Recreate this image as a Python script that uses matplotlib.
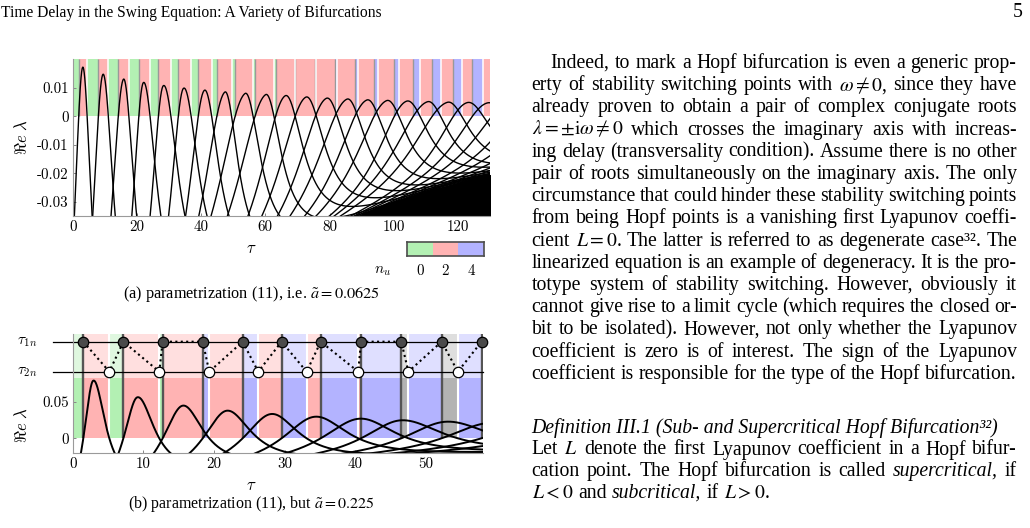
import numpy as np
import matplotlib
matplotlib.use("Agg")
import matplotlib.pyplot as plt
from matplotlib.patches import Rectangle
import matplotlib.transforms as mtransforms

W, H = 1030, 528
SERIF = "Liberation Serif"

# -------------------------- data --------------------------
# (a) a~ = 0.0625 : destabilising / restabilising delays, peaks of each root branch
tau_up_a = [1.87, 8.0, 14.2, 20.6, 26.7, 32.9, 39.1, 44.9, 50.6, 56.8, 63.2, 69.3, 75.6,
            81.7, 87.9, 93.9, 100.2, 106.1, 112.0, 118.6, 124.5, 130.6, 136.8, 142.9,
            149.0, 155.2, 161.3]
tau_down_a = [4.5, 11.1, 17.5, 24.1, 30.6, 36.9, 43.3, 49.5, 56.2, 62.7, 69.3, 75.9, 82.4,
              88.8, 95.2, 101.6, 108.2, 114.6, 121.2, 127.9, 134.4, 140.9, 147.4, 153.9,
              160.4, 166.9, 173.4]
peak_tau_a = [3.1, 9.4, 15.8, 22.0, 28.2, 34.5, 41.0, 47.4, 53.7, 60.1, 66.2, 72.6, 79.0,
              85.4, 91.6, 97.8, 104.0, 110.5, 116.7, 122.9, 129.2, 135.7, 142.1, 148.6,
              155.0, 161.5, 167.9]
peak_re_a = [0.0172, 0.0147, 0.0130, 0.0118, 0.0107, 0.0098, 0.0091, 0.0085, 0.0080, 0.0076,
             0.0072, 0.0067, 0.0063, 0.0060, 0.0057, 0.0055, 0.0053, 0.0051, 0.0049, 0.0048,
             0.0047, 0.0046, 0.0045, 0.0044, 0.0043, 0.0042, 0.0041]
# upper edge of the region where the branches pile up (solid black, bottom right)
dense_tau_a = [90, 95, 100, 105, 110, 115, 120, 125, 130]
dense_top_a = [-0.0352, -0.0329, -0.0309, -0.0291, -0.0273, -0.0256, -0.0239, -0.0222, -0.0206]

# (b) a~ = 0.225
tau1n_b = [1.5, 7.17, 12.73, 18.4, 24.05, 29.56, 35.1, 40.8, 46.5, 52.2, 57.85, 63.5]
tau2n_b = [5.18, 12.25, 19.32, 26.25, 33.1, 40.4, 47.5, 54.5, 61.6, 68.7, 75.8, 82.9]
peak_tau_b = [2.9, 9.14, 15.56, 21.8, 28.1, 34.3, 40.6, 46.5, 52.9, 59.2, 65.5, 71.8]
peak_re_b = [0.0787, 0.056, 0.0446, 0.0377, 0.0332, 0.0295, 0.0268, 0.0246, 0.0227,
             0.0212, 0.0199, 0.0188]

xticks_a = [0, 20, 40, 60, 80, 100, 120]
yticks_a = [0.01, 0, -0.01, -0.02, -0.03]
ylabels_a = ["0.01", "0", "-0.01", "-0.02", "-0.03"]
xticks_b = [0, 10, 20, 30, 40, 50]
yticks_b = [0, 0.05]
ylabels_b = ["0", "0.05"]
nu_levels = [0, 2, 4]

# colours for the number of unstable roots
sat = {0: "#b3f0b3", 2: "#ffb3b3", 4: "#b3b3ff", 6: "#b3b3b3"}
light = {0: "#dff7df", 2: "#ffdfdf", 4: "#dfdfff", 6: "#dedede"}


def px_box(l, t, r, b):
    return [l / W, 1 - b / H, (r - l) / W, (b - t) / H]


def fx(x):
    return x / W


def fy(y):
    return 1 - y / H


def branch(t, u, d, p, h, env):
    # bump of one root branch sitting on the slowly rising envelope env(t)
    B = h - env(p)
    sL = -env(u) / B
    sR = -env(d) / B
    wL = (p - u) / np.sqrt(2 * (1 / sL - 1))
    wR = (d - p) / np.sqrt(2 * (1 / sR - 1))
    w = np.where(t < p, wL, wR)
    x = (t - p) / w
    return env(t) + B / (1 + x ** 2 / 2)


env_a = lambda s: -0.118 * np.exp(-s / 75.8)
env_b = lambda s: -1.6 / (s + 15.0)


def nu_segments(ups, downs, t_end):
    events = sorted([(t, 2) for t in ups] + [(t, -2) for t in downs])
    segs, level, t_prev = [], 0, 0.0
    for t, dn in events:
        if t > t_end:
            break
        segs.append((t_prev, t, level))
        level += dn
        t_prev = t
    segs.append((t_prev, t_end, level))
    return segs


def style_axes(ax):
    for side in ["top", "right"]:
        ax.spines[side].set_visible(False)
    for side in ["left", "bottom"]:
        ax.spines[side].set_color("#9a9a9a")
        ax.spines[side].set_linewidth(0.8)
        ax.spines[side].set_zorder(5)
    ax.tick_params(direction="in", length=2.5, width=0.7, color="#888888",
                   labelsize=10.8, pad=3)


plt.rcParams["axes.unicode_minus"] = False
fig = plt.figure(figsize=(W / 100, H / 100), dpi=100)
fig.patch.set_facecolor("white")

# -------------------------- panel (a) --------------------------
ax_a = fig.add_axes(px_box(72.7, 59.3, 490, 216))
ax_a.set_xlim(0, 130)
ax_a.set_ylim(-0.035, 0.02)
for t0_, t1_, lev in nu_segments(tau_up_a, tau_down_a, 130):
    ax_a.add_patch(Rectangle((t0_, 0), t1_ - t0_, 0.02, facecolor=sat[min(lev, 6)],
                             edgecolor="none", zorder=0))
ax_a.vlines([t for t in tau_up_a if t < 130], 0, 0.02, colors="#999999", lw=1.0, zorder=1)
ax_a.vlines([t for t in tau_down_a if t < 130], 0, 0.02, colors="white", lw=1.1, zorder=1)

tt = np.linspace(0.02, 131, 6000)
for u, d, p, h in zip(tau_up_a, tau_down_a, peak_tau_a, peak_re_a):
    ax_a.plot(tt, branch(tt, u, d, p, h, env_a), color="black", lw=1.0, zorder=2)
ax_a.fill_between(dense_tau_a, dense_top_a, -0.04, color="black", lw=0.8, zorder=2)

style_axes(ax_a)
ax_a.set_xticks(xticks_a)
ax_a.set_xticklabels([str(v) for v in xticks_a], fontfamily="cmr10")
ax_a.set_yticks(yticks_a)
ax_a.set_yticklabels(ylabels_a, fontfamily="cmr10")

fig.text(fx(22), fy(137), r"$\Re e\ \lambda$", rotation=90, fontsize=12,
         math_fontfamily="cm", ha="center", va="center")
fig.text(fx(251), fy(248), r"$\tau$", fontsize=12, math_fontfamily="cm",
         ha="center", va="center")

# colour legend for n_u
ax_c = fig.add_axes(px_box(406.7, 242.3, 484.3, 256))
for i, lev in enumerate(nu_levels):
    ax_c.add_patch(Rectangle((i, 0), 1, 1, facecolor=sat[lev], edgecolor="none"))
ax_c.set_xlim(0, 3)
ax_c.set_ylim(0, 1)
ax_c.set_xticks([])
ax_c.set_yticks([])
for s in ax_c.spines.values():
    s.set_color("#4d4d4d")
    s.set_linewidth(1.2)
for i, lev in enumerate(nu_levels):
    fig.text(fx(406.7 + 77.6 * (i + 0.5) / 3), fy(271), f"{lev}", fontfamily="cmr10",
             fontsize=10.8, ha="center", va="center")
fig.text(fx(383), fy(271), r"$n_u$", fontsize=11, math_fontfamily="cm",
         ha="center", va="center")

# -------------------------- panel (b) --------------------------
yb_top, yb_sat, y1n, y2n = 0.1425, 0.082, 0.132, 0.091
ax_b = fig.add_axes(px_box(72.7, 334, 483.3, 453.3))
ax_b.set_xlim(0, 58.1)
ax_b.set_ylim(-0.0205, yb_top)
for t0_, t1_, lev in nu_segments(tau1n_b, tau2n_b, 58.1):
    ax_b.add_patch(Rectangle((t0_, 0), t1_ - t0_, yb_sat, facecolor=sat[min(lev, 6)],
                             edgecolor="none", zorder=0))
    ax_b.add_patch(Rectangle((t0_, yb_sat), t1_ - t0_, yb_top - yb_sat,
                             facecolor=light[min(lev, 6)], edgecolor="none", zorder=0))
ax_b.vlines([t for t in tau2n_b if t < 58.1], 0, yb_top, colors="white", lw=1.5, zorder=1)
ax_b.vlines([t for t in tau1n_b if t < 58.1], 0, yb_top, colors="#555555", lw=1.7, zorder=1)

tb = np.linspace(0.02, 59, 4000)
for u, d, p, h in zip(tau1n_b, tau2n_b, peak_tau_b, peak_re_b):
    ax_b.plot(tb, branch(tb, u, d, p, h, env_b), color="black", lw=1.4, zorder=2)

# rows of crossing delays and the path through them in order of tau
blend = mtransforms.blended_transform_factory(ax_b.transAxes, ax_b.transData)
for yr in (y1n, y2n):
    ax_b.plot([-0.048, 1], [yr, yr], color="black", lw=0.9, transform=blend,
              clip_on=False, zorder=3)
pts1 = [(t, y1n) for t in tau1n_b if t < 58.1]
pts2 = [(t, y2n) for t in tau2n_b if t < 58.1]
path = sorted(pts1 + pts2)
ax_b.plot([q[0] for q in path], [q[1] for q in path], color="black", lw=1.5,
          linestyle=(0, (1, 1.6)), zorder=3, clip_on=False)
ax_b.plot([q[0] for q in pts1], [q[1] for q in pts1], "o", ms=7.5, mfc="#4a4a4a",
          mec="black", mew=0.9, zorder=4, clip_on=False)
ax_b.plot([q[0] for q in pts2], [q[1] for q in pts2], "o", ms=7.5, mfc="white",
          mec="black", mew=0.9, zorder=4, clip_on=False)

style_axes(ax_b)
ax_b.set_xticks(xticks_b)
ax_b.set_xticklabels([str(v) for v in xticks_b], fontfamily="cmr10")
ax_b.set_yticks(yticks_b)
ax_b.set_yticklabels(ylabels_b, fontfamily="cmr10")
fig.text(fx(37), fy(341.7), r"$\tau_{1n}$", fontsize=11, math_fontfamily="cm",
         ha="right", va="center")
fig.text(fx(37), fy(371.7), r"$\tau_{2n}$", fontsize=11, math_fontfamily="cm",
         ha="right", va="center")
fig.text(fx(22), fy(425), r"$\Re e\ \lambda$", rotation=90, fontsize=12,
         math_fontfamily="cm", ha="center", va="center")
fig.text(fx(251), fy(484.5), r"$\tau$", fontsize=12, math_fontfamily="cm",
         ha="center", va="center")

# -------------------------- page text --------------------------
renderer = fig.canvas.get_renderer()


def width_of(s, size, style="normal"):
    t = fig.text(0, 0, s, fontsize=size, fontfamily=SERIF, fontstyle=style,
                 math_fontfamily="stix")
    w = t.get_window_extent(renderer).width
    t.remove()
    return w


def fit_size(s, target, style="normal"):
    return 10.0 * target / width_of(s, 10.0, style)


def draw_line(tokens, x0, x1, y, size, justify=True):
    objs, widths = [], []
    for tok in tokens:
        style = "normal"
        if tok.startswith("~"):
            tok, style = tok[1:], "italic"
        t = fig.text(fx(x0), fy(y), tok, fontsize=size, fontfamily=SERIF, fontstyle=style,
                     math_fontfamily="stix", ha="left", va="baseline")
        objs.append(t)
        widths.append(t.get_window_extent(renderer).width)
    if justify and len(tokens) > 1:
        gap = (x1 - x0 - sum(widths)) / (len(tokens) - 1)
    else:
        gap = width_of("x x", size) - 2 * width_of("x", size)
    x = x0
    for t, w in zip(objs, widths):
        t.set_x(fx(x))
        x += w + gap


body = [
    "Indeed, to mark a Hopf bifurcation is even a generic prop-",
    r"erty of stability switching points with $\omega\neq0$, since they have",
    "already proven to obtain a pair of complex conjugate roots",
    r"$\lambda=\pm\mathrm{i}\omega\neq0$ which crosses the imaginary axis with increas-",
    "ing delay (transversality condition). Assume there is no other",
    "pair of roots simultaneously on the imaginary axis. The only",
    "circumstance that could hinder these stability switching points",
    "from being Hopf points is a vanishing first Lyapunov coeffi-",
    r"cient $L=0$. The latter is referred to as degenerate case³². The",
    "linearized equation is an example of degeneracy. It is the pro-",
    "totype system of stability switching. However, obviously it",
    "cannot give rise to a limit cycle (which requires the closed or-",
    "bit to be isolated). However, not only whether the Lyapunov",
    "coefficient is zero is of interest. The sign of the Lyapunov",
    "coefficient is responsible for the type of the Hopf bifurcation.",
]
definition = "Definition III.1 (Sub- and Supercritical Hopf Bifurcation³²)"
def_body = [
    (r"Let $L$ denote the first Lyapunov coefficient in a Hopf bifur-", True),
    (r"cation point. The Hopf bifurcation is called ~supercritical, if", True),
    (r"$L<0$ and ~subcritical, if $L>0$.", False),
]

body_size = fit_size(body[-1], 485)
x_left, x_right = 531.7, 1017
for k, line in enumerate(body):
    draw_line(line.split(" "), 550.7 if k == 0 else x_left, x_right, 68 + 22.2 * k, body_size)
fig.text(fx(x_left), fy(433), definition, fontsize=body_size, fontfamily=SERIF,
         fontstyle="italic", ha="left", va="baseline")
for k, (line, just) in enumerate(def_body):
    draw_line(line.split(" "), x_left, x_right, 454.5 + 21.5 * k, body_size, just)

head = "Time Delay in the Swing Equation: A Variety of Bifurcations"
fig.text(fx(1), fy(17), head, fontsize=fit_size(head, 379), fontfamily=SERIF,
         ha="left", va="baseline")
fig.text(fx(1023), fy(17), "5", fontsize=body_size, fontfamily=SERIF, ha="right",
         va="baseline")

cap_a = r"(a) parametrization (11), i.e. $\tilde{a}=0.0625$"
cap_b = r"(b) parametrization (11), but $\tilde{a}=0.225$"
fig.text(fx(251), fy(298), cap_a, fontsize=fit_size(cap_a, 256), fontfamily=SERIF,
         math_fontfamily="stix", ha="center", va="baseline")
fig.text(fx(251.5), fy(508.5), cap_b, fontsize=fit_size(cap_b, 247), fontfamily=SERIF,
         math_fontfamily="stix", ha="center", va="baseline")

fig.savefig("out.png", dpi=100, facecolor="white")
